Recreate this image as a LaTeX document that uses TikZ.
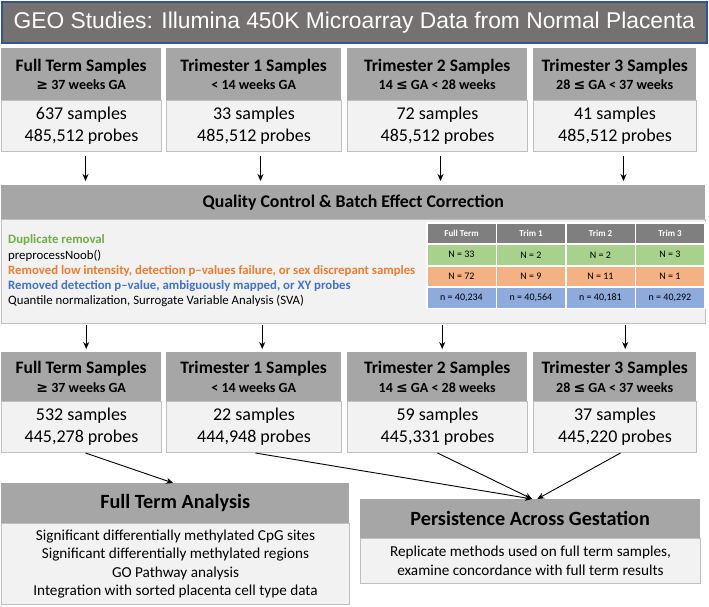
\documentclass[tikz,border=0pt]{standalone}
\usepackage{fontspec}
\usepackage{graphicx}
\setmainfont{Carlito}
\newfontfamily\titlefont{Liberation Sans}
\newfontfamily\symfont{DejaVu Sans}
\usetikzlibrary{arrows.meta,positioning,calc}
\definecolor{titlegray}{HTML}{767171}
\definecolor{titleblue}{HTML}{2F5597}
\definecolor{hdrgray}{HTML}{A6A6A6}
\definecolor{bodygray}{HTML}{F2F2F2}
\definecolor{edgegray}{HTML}{BFBFBF}
\definecolor{tabgray}{HTML}{7F7F7F}
\definecolor{qcgreen}{HTML}{70AD47}
\definecolor{qcorange}{HTML}{ED7D31}
\definecolor{qcblue}{HTML}{4472C4}
\definecolor{cellgreen}{HTML}{A9D18E}
\definecolor{cellorange}{HTML}{F4B183}
\definecolor{cellblue}{HTML}{8FAADC}
\tikzset{
  hdr/.style={fill=hdrgray,inner sep=0pt,anchor=north west,align=center,font=\bfseries},
  bodybox/.style={fill=bodygray,draw=edgegray,line width=1pt,inner sep=0pt,anchor=north west,align=center},
  arr/.style={-{Stealth[length=7pt,width=6pt]},line width=0.9pt},
  cell/.style={draw=white,line width=1.5pt,inner sep=0pt,anchor=north west,minimum width=69.5pt,minimum height=21pt,font=\fontsize{10}{12}\selectfont}
}

\begin{document}
\begin{tikzpicture}[x=1pt,y=-1pt]
  \useasboundingbox (0,0) rectangle (709,606);
  \node[fill=titlegray,draw=titleblue,line width=1.5pt,minimum width=705pt,minimum height=41pt,anchor=north west,inner sep=0pt,text=white]
    (title) at (1,1) {\titlefont\fontsize{22.8}{24}\selectfont GEO Studies: Illumina 450K Microarray Data from Normal Placenta};
  % sample boxes, before and after QC
  \foreach \i/\xl/\w/\lab/\ga/\ns/\np/\nsb/\npb in {
      1/1/160/{Full Term}/{{\symfont ≥}\ 37 weeks GA}/637/485{,}512/532/445{,}278,
      2/166/175/{Trimester 1}/{< 14 weeks GA}/33/485{,}512/22/444{,}948,
      3/347/180/{Trimester 2}/{14 {\symfont ≤} GA < 28 weeks}/72/485{,}512/59/445{,}331,
      4/533/163/{Trimester 3}/{28 {\symfont ≤} GA < 37 weeks}/41/485{,}512/37/445{,}220}{
    \node[hdr,minimum width=\w pt,minimum height=52pt] (th\i) at (\xl,48)
      {\fontsize{17.5}{21}\selectfont\lab\ Samples\\[5pt]\fontsize{14}{18}\selectfont\ga};
    \node[bodybox,minimum width=\w pt,minimum height=51pt,font=\fontsize{18}{22}\selectfont] (tb\i) at (\xl,100)
      {\ns\ samples\\\np\ probes};
    \node[hdr,minimum width=\w pt,minimum height=49pt] (bh\i) at (\xl,352)
      {\fontsize{17.5}{21}\selectfont\lab\ Samples\\[5pt]\fontsize{14}{18}\selectfont\ga};
    \node[bodybox,minimum width=\w pt,minimum height=51pt,font=\fontsize{18}{22}\selectfont] (bb\i) at (\xl,401)
      {\nsb\ samples\\\npb\ probes};
  }
  % quality control
  \node[hdr,minimum width=704pt,minimum height=34pt] (qch) at (1,185)
    {\fontsize{17.8}{20}\selectfont Quality Control \& Batch Effect Correction};
  \node[bodybox,minimum width=704pt,minimum height=104pt] (qc) at (1,219) {};
  \node[anchor=west,align=left,inner sep=0pt,font=\fontsize{12.8}{15.2}\selectfont] (qctext) at (8,271)
    {\textcolor{qcgreen}{\bfseries Duplicate removal}\\
     preprocessNoob()\\
     \textcolor{qcorange}{\bfseries Removed low intensity, detection p–values failure, or sex discrepant samples}\\
     \textcolor{qcblue}{\bfseries Removed detection p–value, ambiguously mapped, or XY probes}\\
     Quantile normalization, Surrogate Variable Analysis (SVA)};
  \foreach \c/\x/\hd/\a/\b/\n in {1/426/Full Term/33/72/40{,}234,2/495.5/Trim 1/2/9/40{,}564,
      3/565/Trim 2/2/11/40{,}181,4/634.5/Trim 3/3/1/40{,}292}{
    \node[cell,fill=tabgray,text=white,font=\bfseries\fontsize{9}{11}\selectfont] (t0\c) at (\x,222) {\hd};
    \node[cell,fill=cellgreen] (t1\c) at (\x,243.5) {N = \a};
    \node[cell,fill=cellorange] (t2\c) at (\x,265) {N = \b};
    \node[cell,fill=cellblue] (t3\c) at (\x,286.5) {n = \n};
  }
  % analyses
  \node[hdr,minimum width=348pt,minimum height=40pt] (fth) at (1,483)
    {\fontsize{20.2}{24}\selectfont Full Term Analysis};
  \node[bodybox,minimum width=348pt,minimum height=81pt,font=\fontsize{15.2}{18.5}\selectfont] (fta) at (1,523)
    {Significant differentially methylated CpG sites\\Significant differentially methylated regions\\
     GO Pathway analysis\\Integration with sorted placenta cell type data};
  \node[hdr,minimum width=340pt,minimum height=39pt] (pgh) at (360,499)
    {\fontsize{20.2}{24}\selectfont Persistence Across Gestation};
  \node[bodybox,minimum width=340pt,minimum height=45pt,font=\fontsize{15.2}{18.5}\selectfont] (pga) at (360,538)
    {Replicate methods used on full term samples,\\examine concordance with full term results};
  % connectors
  \foreach \i/\dx in {1/4,2/6.5,3/3,4/8.5}
    \draw[arr,shorten <=4pt,shorten >=4pt] ([xshift=\dx pt]tb\i.south) -- ([xshift=\dx pt]tb\i.south |- qch.north);
  \foreach \i/\dx in {1/5,2/8.5,3/5,4/10.5}
    \draw[arr,shorten <=1pt,shorten >=3pt] ([xshift=\dx pt]qc.south -| bh\i.north) -- ([xshift=\dx pt]bh\i.north);
  \draw[arr] ([xshift=4pt]bb1.south) -- ([xshift=-2pt]fth.north);
  \draw[arr] ([xshift=1.5pt]bb2.south) -- ([xshift=2pt]pgh.north);
  \draw[arr] (bb3.south) -- ([xshift=2pt]pgh.north);
  \draw[arr] ([xshift=5.5pt]bb4.south) -- ([xshift=7pt]pgh.north);
\end{tikzpicture}
\end{document}
